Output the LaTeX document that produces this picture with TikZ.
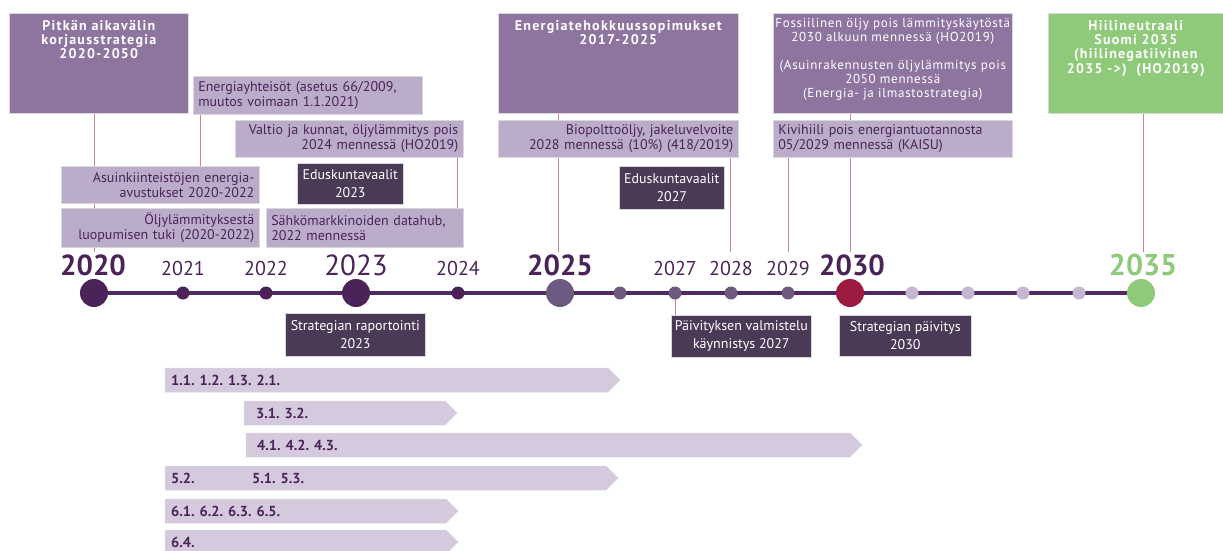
\documentclass[tikz,border=0pt]{standalone}
\usepackage{fontspec}
\setmainfont{PT Sans}
\newfontfamily\titlef[LetterSpace=9]{PT Sans}
\newfontfamily\plainf[LetterSpace=5.5]{PT Sans}
\definecolor{titlebg}{HTML}{8E75A0}
\definecolor{lightbg}{HTML}{BBADC9}
\definecolor{darkbg}{HTML}{4B3A56}
\definecolor{arrowbg}{HTML}{D5C9DE}
\definecolor{ink}{HTML}{4A2458}
\definecolor{connc}{HTML}{C4869B}
\definecolor{reddot}{HTML}{9B1C40}
\definecolor{greenbg}{HTML}{8FC97A}
\definecolor{middot}{HTML}{6E5A80}
\definecolor{paledot}{HTML}{C5B6D2}
\definecolor{edgec}{HTML}{DCD6E0}
\definecolor{lineink}{HTML}{4E2A5E}
\pgfdeclarelayer{bg}
\pgfsetlayers{bg,main}
\begin{document}
\begin{tikzpicture}[x=1pt,y=-1pt,
  box/.style={rectangle, draw=edgec, line width=0.6pt, inner sep=0pt, anchor=north west},
  titlebox/.style={box, fill=titlebg},
  greenbox/.style={box, fill=greenbg},
  lightbox/.style={box, fill=lightbg, text=ink, font={\fontsize{14}{15}\selectfont}, inner xsep=5pt},
  darkbox/.style={box, fill=darkbg, text=white, font={\fontsize{14}{18}\selectfont}, align=center},
  titletext/.style={text=white, font={\titlef\bfseries\fontsize{14}{14.3}\selectfont}, align=center, inner sep=0pt, anchor=north},
  plaintitle/.style={text=white, font={\plainf\fontsize{13}{14}\selectfont}, align=center, inner sep=0pt, anchor=north},
  connline/.style={draw=connc, line width=0.9pt},
  tline/.style={draw=lineink, line width=4pt},
  dot/.style={circle, inner sep=0pt, minimum size=13pt},
  bigdot/.style={circle, inner sep=0pt, minimum size=28pt},
  yr/.style={text=ink, font={\fontsize{20}{20}\selectfont}, anchor=base, inner sep=0pt},
  bigyr/.style={text=ink, font={\fontsize{29}{29}\selectfont}, anchor=base, inner sep=0pt},
  arrowtext/.style={text=ink, font={\bfseries\fontsize{14.5}{15}\selectfont}, anchor=west, inner sep=0pt},
  arrowshape/.style={fill=arrowbg, draw=edgec, line width=0.5pt},
]
\useasboundingbox (0,0) rectangle (1223,551);

% ---------- title boxes ----------
\node[titlebox, minimum width=179pt, minimum height=100pt] (pitkan) at (9,13) {};
\node[titletext] (pitkant) at ([yshift=-7pt]pitkan.north) {Pitkän aikavälin\\korjausstrategia\\2020-2050};
\node[titlebox, minimum width=240pt, minimum height=100pt] (energia) at (498,13) {};
\node[titletext] (energiat) at ([yshift=-7pt]energia.north) {Energiatehokkuussopimukset\\2017-2025};
\node[titlebox, minimum width=239pt, minimum height=100pt] (foss) at (773,13) {};
\node[plaintitle] (fosst) at ([yshift=-5pt]foss.north) {Fossiilinen öljy pois lämmityskäytöstä\\2030 alkuun mennessä (HO2019)\\[14pt](Asuinrakennusten öljylämmitys pois\\2050 mennessä\\(Energia- ja ilmastostrategia)};
\node[greenbox, minimum width=175pt, minimum height=100pt] (green) at (1048,13) {};
\node[titletext] (greent) at ([yshift=-7pt]green.north) {Hiilineutraali\\Suomi 2035\\(hiilinegatiivinen\\2035 ->)\ \ (HO2019)};

% ---------- light boxes ----------
\node[lightbox, minimum width=229pt, minimum height=38pt, text width=219pt, align=left] (energ) at (193,76) {Energiayhteisöt (asetus 66/2009,\\muutos voimaan 1.1.2021)};
\node[lightbox, minimum width=228pt, minimum height=37pt, text width=218pt, align=right] (valtio) at (235,120) {Valtio ja kunnat, öljylämmitys pois\\2024 mennessä (HO2019)};
\node[lightbox, minimum width=198pt, minimum height=37pt, text width=188pt, align=right] (asuin) at (61,166) {Asuinkiinteistöjen energia-\\avustukset 2020-2022};
\node[lightbox, minimum width=198pt, minimum height=39pt, text width=188pt, align=right] (oljy) at (61,208) {Öljylämmityksestä\\luopumisen tuki (2020-2022)};
\node[lightbox, minimum width=197pt, minimum height=39pt, text width=187pt, align=left] (sahko) at (266,208) {Sähkömarkkinoiden datahub,\\2022 mennessä};
\node[lightbox, minimum width=240pt, minimum height=37pt, text width=230pt, align=right] (bio) at (498,120) {Biopolttoöljy, jakeluvelvoite\\2028 mennessä (10\%) (418/2019)};
\node[lightbox, minimum width=239pt, minimum height=37pt, text width=229pt, align=left] (kivi) at (773,120) {Kivihiili pois energiantuotannosta\\05/2029 mennessä (KAISU)};

% ---------- dark boxes ----------
\node[darkbox, minimum width=106pt, minimum height=41pt] (edu23) at (297,163) {Eduskuntavaalit\\2023};
\node[darkbox, minimum width=105pt, minimum height=43pt] (edu27) at (619,166) {Eduskuntavaalit\\2027};
\node[darkbox, minimum width=140pt, minimum height=43pt] (strat) at (285,313) {Strategian raportointi\\2023};
\node[darkbox, minimum width=140pt, minimum height=42pt] (paiv) at (671,315) {Päivityksen valmistelu\\käynnistys 2027};
\node[darkbox, minimum width=132pt, minimum height=41pt] (stpaiv) at (839,315) {Strategian päivitys\\2030};

% ---------- year labels ----------
\node[bigyr, font={\bfseries\fontsize{29}{29}\selectfont}] (y2020) at (93,275) {2020};
\node[yr] (y2021) at (183,275) {2021};
\node[yr] (y2022) at (266,275) {2022};
\node[bigyr] (y2023) at (356,275) {2023};
\node[yr] (y2024) at (458,275) {2024};
\node[bigyr, font={\bfseries\fontsize{29}{29}\selectfont}] (y2025) at (560,275) {2025};
\node[yr] (y2027) at (675,275) {2027};
\node[yr] (y2028) at (731,275) {2028};
\node[yr] (y2029) at (788,275) {2029};
\node[bigyr, font={\bfseries\fontsize{29}{29}\selectfont}] (y2030) at (852,275) {2030};
\node[bigyr, text=greenbg, font={\bfseries\fontsize{30}{30}\selectfont}] (y2035) at (1143,275) {2035};

% ---------- dots ----------
\node[bigdot, fill=ink] (d2020) at (94,293) {};
\node[dot, fill=ink] (d2021) at (183,293) {};
\node[dot, fill=ink] (d2022) at (266,293) {};
\node[bigdot, fill=ink] (d2023) at (356,293) {};
\node[dot, fill=ink] (d2024) at (458,293) {};
\node[bigdot, fill=middot] (d2025) at (560,293) {};
\node[dot, fill=middot] (d2026) at (620,293) {};
\node[dot, fill=middot] (d2027) at (675,293) {};
\node[dot, fill=middot] (d2028) at (731,293) {};
\node[dot, fill=middot] (d2029) at (788,293) {};
\node[bigdot, fill=reddot] (d2030) at (850,293) {};
\node[dot, fill=paledot] (d2031) at (912,293) {};
\node[dot, fill=paledot] (d2032) at (968,293) {};
\node[dot, fill=paledot] (d2033) at (1023,293) {};
\node[dot, fill=paledot] (d2034) at (1079,293) {};
\node[bigdot, fill=greenbg] (d2035) at (1141,293) {};

% ---------- connector ends above year labels ----------
\coordinate (t2020) at (94,252);
\coordinate (t2025) at (558,252);
\coordinate (t2028) at (730,252);
\coordinate (t2029) at (788,252);
\coordinate (t2030) at (850,252);
\coordinate (t2035) at (1143,252);

\begin{pgfonlayer}{bg}
  \fill[white] (0,0) rectangle (1223,551);
  \draw[tline] (d2020.center) -- (d2035.center);
  \draw[connline] (pitkan.south -| t2020) -- (t2020);
  \draw[connline] ([xshift=7pt]energ.south west) -- ([xshift=7pt]energ.south west |- asuin.north);
  \draw[connline] ([xshift=-6pt]valtio.south east) -- ([xshift=-6pt]valtio.south east |- sahko.north);
  \draw[connline] (energia.south -| t2025) -- (t2025);
  \draw[connline] (bio.south -| t2028) -- (t2028);
  \draw[connline] (kivi.south -| t2029) -- (t2029);
  \draw[connline] (foss.south -| t2030) -- (t2030);
  \draw[connline] (green.south -| t2035) -- (t2035);
  \draw[connline] (d2027.center) -- (d2027 |- paiv.north);
\end{pgfonlayer}

% ---------- action arrows ----------
\path[arrowshape] (165,368) -- (608,368) -- (620,380) -- (608,392) -- (165,392) -- cycle;
\node[arrowtext] (a1) at (171,380) {1.1. 1.2. 1.3. 2.1.};
\path[arrowshape] (244,401) -- (445,401) -- (457,413) -- (445,425) -- (244,425) -- cycle;
\node[arrowtext] (a2) at (256,413) {3.1. 3.2.};
\path[arrowshape] (246,433) -- (850,433) -- (862,445) -- (850,457) -- (246,457) -- cycle;
\node[arrowtext] (a3) at (257,445) {4.1. 4.2. 4.3.};
\path[arrowshape] (165,466) -- (606,466) -- (618,478) -- (606,490) -- (165,490) -- cycle;
\node[arrowtext] (a4a) at (171,478) {5.2.};
\node[arrowtext] (a4b) at (252,478) {5.1. 5.3.};
\path[arrowshape] (165,499) -- (446,499) -- (458,511) -- (446,523) -- (165,523) -- cycle;
\node[arrowtext] (a5) at (171,511) {6.1. 6.2. 6.3. 6.5.};
\path[arrowshape] (165,530) -- (446,530) -- (458,542) -- (446,554) -- (165,554) -- cycle;
\node[arrowtext] (a6) at (171,542) {6.4.};
\end{tikzpicture}
\end{document}
